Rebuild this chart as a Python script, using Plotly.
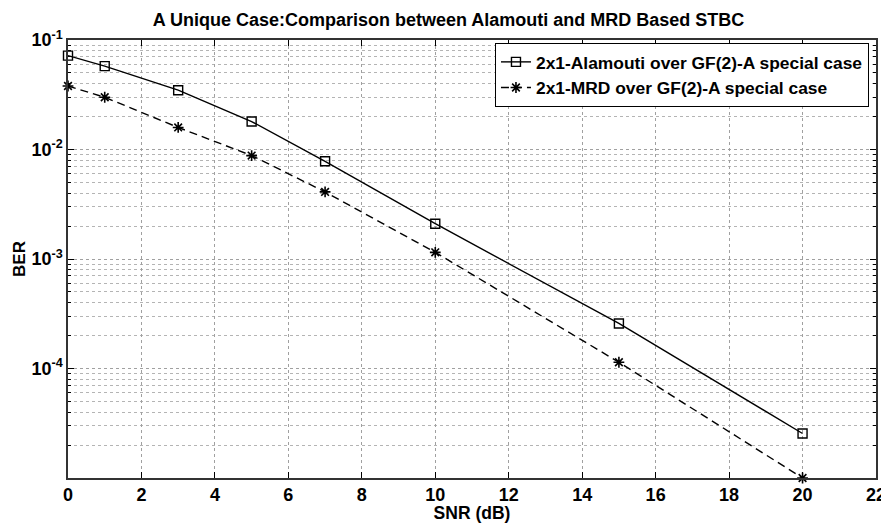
import plotly.graph_objects as go

snr = [0, 1, 3, 5, 7, 10, 15, 20]
ber_alamouti = [0.072, 0.0577, 0.0348, 0.018, 0.0078, 0.0021, 2.58e-4, 2.55e-5]
ber_mrd = [0.038, 0.030, 0.0159, 0.0088, 0.0041, 0.00115, 1.14e-4, 1.0e-5]

names = ["2x1-Alamouti over GF(2)-A special case", "2x1-MRD over GF(2)-A special case"]
title = "A Unique Case:Comparison between Alamouti and MRD Based STBC"

x_ticks = [0, 2, 4, 6, 8, 10, 12, 14, 16, 18, 20, 22]
y_ticks = [1e-4, 1e-3, 1e-2, 1e-1]
y_ticktext = ["10<sup>-4</sup>", "10<sup>-3</sup>", "10<sup>-2</sup>", "10<sup>-1</sup>"]
y_minor = [m * 10.0 ** e for e in range(-5, -1) for m in range(2, 10)]

fnt = dict(family="Arial, Liberation Sans", color="black", weight="bold")

fig = go.Figure()
fig.add_scatter(x=snr, y=ber_alamouti, name=names[0], mode="lines+markers", cliponaxis=False,
                line=dict(color="black", width=1.4),
                marker=dict(symbol="square-open", size=9, color="black", line=dict(width=1.4)))
fig.add_scatter(x=snr, y=ber_mrd, name=names[1], mode="lines+markers", cliponaxis=False,
                line=dict(color="black", width=1.4, dash="8px,5px"),
                marker=dict(symbol="asterisk-open", size=9, color="black", line=dict(width=1.6)))

grid = dict(showgrid=True, gridcolor="#a0a0a0", griddash="dot", gridwidth=1)

# the page body has an 8px margin, so the figure is sized 8px smaller each way
fig.update_layout(
    width=881, height=515,
    margin=dict(l=60, r=13, t=32, b=45),
    paper_bgcolor="white", plot_bgcolor="white",
    font=dict(size=17, **fnt),
    title=dict(text=title, x=0.5, xanchor="center", y=0.977, yanchor="middle",
               font=dict(size=18, **fnt)),
    showlegend=True,
    legend=dict(x=0.9913, xanchor="right", y=0.993, yanchor="top",
                bgcolor="white", bordercolor="black", borderwidth=1,
                font=dict(size=17.4, **fnt), tracegroupgap=0, itemwidth=30),
    xaxis=dict(range=[0, 22], tickvals=x_ticks, ticks="inside", ticklen=6,
               tickcolor="black", linecolor="#333", linewidth=1.5, mirror="ticks",
               zeroline=False, automargin=False, tickfont=dict(size=18, **fnt),
               title=dict(text="SNR (dB)", standoff=0, font=dict(size=17.5, **fnt)),
               **grid),
    yaxis=dict(type="log", range=[-5, -1], tickvals=y_ticks, ticktext=y_ticktext,
               ticks="inside", ticklen=6, tickcolor="black",
               linecolor="#333", linewidth=1.5, mirror="ticks", zeroline=False,
               automargin=False, tickfont=dict(size=18, **fnt),
               title=dict(text="BER", standoff=1, font=dict(size=17, **fnt)),
               minor=dict(tickvals=y_minor, ticks="inside", ticklen=3, tickcolor="black",
                          showgrid=True, gridcolor="#b4b4b4", griddash="dot"),
               **grid),
)

fig.write_html("out.html")
